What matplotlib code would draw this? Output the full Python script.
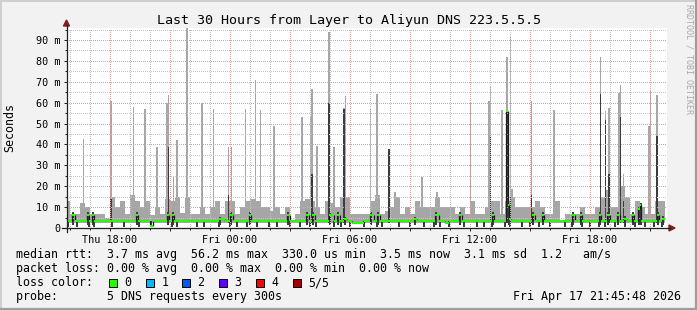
import matplotlib
matplotlib.use("Agg")
import matplotlib.pyplot as plt
import numpy as np
from matplotlib.lines import Line2D
from matplotlib.patches import Rectangle, Polygon

W, H = 697, 310

# ---- data: hours relative to Fri 00:00, values in ms ----
# light smoke top for each 15 minute slot, starting Thu 15:45
slot_start = -8.25
slot_hours = 0.25
smoke_top = [
    13, 6.5, 6.5, 12, 10, 6.5, 6.5, 6.5, 5, 15, 10, 13, 6.5, 16, 13,
    10, 13, 6, 10, 6.5, 14, 13, 15, 7, 15, 6.5, 6.5, 10, 6.5, 10,
    13, 6.5, 13, 13, 6.5, 10, 13, 14, 13, 10, 10, 8, 10, 6.5, 10,
    4, 6.5, 13, 14, 13, 10, 6.5, 13, 12, 10, 15, 15, 6.5, 6.5, 6.5,
    6.5, 13, 16, 6.5, 8, 10, 15, 6.5, 10, 6.5, 13, 10, 10, 10, 15,
    10, 10, 10, 6.5, 10, 6.5, 13, 6.5, 6.5, 10, 13, 13, 6.5, 13, 15,
    10, 10, 10, 10, 13, 10, 6.5, 6.5, 13, 4, 6.5, 6.5, 6.5, 10, 6.5,
    6.5, 10, 15, 18, 10, 10, 20, 15, 6.5, 13, 10, 6.5, 6.5, 13, 13,
]

# tall single samples (max ping) and their inner (2nd..4th ping) part
spike_hours = [-7.32, -5.94, -4.82, -4.24, -3.65, -3.15, -3.07, -2.82, -2.65, -2.15, -1.40, -0.82,
               -0.07, 0.07, 0.77, 1.27, 1.52, 2.19, 3.60, 4.05, 4.10, 4.35, 4.94, 5.19, 5.69, 5.77,
               7.02, 7.35, 7.94, 8.25, 9.60, 10.35, 12.02, 12.94, 13.02, 13.60, 13.85, 14.02,
               14.10, 15.07, 16.19, 18.52, 18.77, 18.94, 19.44, 19.52, 19.68, 20.94, 21.02, 21.35]
spike_max = [42.6, 60.8, 58, 57, 39, 60, 63.7, 24.6, 42, 96, 60, 57,
             38.6, 39, 57, 71, 56.5, 49, 53, 53.8, 66.5, 39.4, 93.7, 38.8, 57.3, 63,
             57, 64, 37.8, 17, 24.4, 17, 60, 60.8, 68, 56.5, 81.7, 92,
             18.7, 60.8, 56.5, 81.7, 56, 57.6, 64.5, 68.5, 26, 49, 66, 63.7]
spike_inner = [0, 14, 0, 0, 0, 0, 39, 0, 0, 0, 0, 0,
               16, 0, 0, 0, 0, 0, 0, 0, 26, 0, 60, 0, 57, 0,
               0, 0, 37.8, 0, 0, 0, 0, 0, 44, 0, 56.5, 15,
               0, 16, 0, 64, 51.7, 26, 0, 53, 13, 0, 0, 44]

# median rtt as steps (start hour, value)
median_hours = [-8.25, -7.90, -7.75, -7.15, -7.05, -6.90, -6.78, -4.70, -4.58, -4.00, -3.85,
                -3.15, -3.05, -2.90, -2.80, -0.55, -0.25, 0.00, 0.15, 0.95, 1.05, 2.85, 2.98,
                3.80, 3.95, 4.10, 4.25, 4.95, 5.20, 5.35, 5.50, 5.70, 5.85, 6.10, 6.70, 7.00, 7.20,
                7.35, 7.50, 9.20, 9.35, 10.25, 10.45, 10.75, 10.95, 11.45, 11.60, 13.10, 13.20,
                13.80, 13.88, 13.97, 14.05, 15.10, 15.25, 15.60, 15.70, 17.10, 17.25, 17.50, 17.60,
                18.45, 18.55, 18.85, 19.00, 19.35, 19.50, 19.70, 19.85, 20.10, 20.20, 20.40, 20.50,
                20.55, 21.35, 21.45, 21.60, 21.75]
median_ms = [3.2, 6.3, 3.2, 6.3, 3.2, 6.3, 3.2, 6.3, 3.2, 1.0, 3.2,
             6.3, 3.2, 6.3, 3.2, 4.3, 3.2, 6.3, 3.2, 6.3, 3.2, 6.3, 3.2,
             6.3, 3.2, 6.3, 3.2, 6.3, 3.2, 6.3, 3.2, 4.3, 3.2, 2.4, 3.2, 6.3, 3.2,
             6.3, 3.2, 4.3, 3.2, 6.3, 3.2, 2.4, 3.2, 6.3, 3.2, 6.3, 3.2,
             56.2, 11.0, 4.3, 3.2, 6.3, 3.2, 6.3, 3.2, 6.3, 3.2, 6.3, 3.2,
             6.3, 3.2, 6.3, 3.2, 6.3, 3.2, 4.5, 3.2, 6.3, 3.2, 9.0, 11.0,
             3.2, 6.3, 3.2, 4.5, 4.5]

# samples whose fastest pings drop down to the minimum
dip_hours = [-8.10, -7.65, -7.05, -6.80, -5.90, -5.30, -4.55, -3.95, -2.90, -2.65, -1.65, -1.30,
             -0.55, 0.00, 0.35, 0.85, 1.35, 1.95, 2.35, 3.00, 3.50, 4.00, 4.30, 5.20, 5.55, 6.00,
             6.70, 7.35, 7.60, 8.45, 9.00, 9.70, 10.20, 10.50, 10.95, 11.70, 12.35, 12.70, 13.10,
             13.75, 14.00, 14.60, 15.00, 15.45, 16.00, 16.75, 17.10, 17.60, 18.00, 18.45, 18.75,
             19.25, 19.75, 20.25, 20.75, 21.20, 21.60]
min_rtt = 0.33
smoke_floor = 2.6

tick_hours = [-6, -3, 0, 3, 6, 9, 12, 15, 18, 21]
tick_labels = ["Thu 18:00", "", "Fri 00:00", "", "Fri 06:00", "", "Fri 12:00", "", "Fri 18:00", ""]
y_ticks = [0, 10, 20, 30, 40, 50, 60, 70, 80, 90]
y_labels = ["0", "10 m", "20 m", "30 m", "40 m", "50 m", "60 m", "70 m", "80 m", "90 m"]

loss_labels = ["0", "1", "2", "3", "4", "5/5"]
loss_colors = ["#26ff00", "#00b8ff", "#0059ff", "#5e00ff", "#ff0000", "#a00000"]

# ---- colours (rrdtool / smokeping defaults) ----
BACK = "#f2f2f2"
SHADE_A = "#cfcfcf"
SHADE_B = "#9e9e9e"
GRID = "#c4c4c4"
MGRID = "#eb9898"
ARROW = "#801f1f"
SMOKE_LIGHT = "#a6a6a6"
SMOKE_DARK = "#3c3c3c"
MONO = "DejaVu Sans Mono"
sample = 1 / 12  # 5 minutes


def fx(px):
    return px / W


def fy(py):
    return 1 - py / H


fig = plt.figure(figsize=(W / 100, H / 100), dpi=100, facecolor=BACK)
ax = fig.add_axes([fx(67), fy(228), 600 / W, 200 / H])
ax.set_facecolor("white")
ax.set_xlim(-8.15, 21.85)
ax.set_ylim(0, 200 / 2.089)

# light smoke per 15-min slot
slot_x = slot_start + slot_hours * np.arange(len(smoke_top))
top = np.array(smoke_top)
ax.bar(slot_x, top - smoke_floor, bottom=smoke_floor, width=slot_hours, align="edge",
       color=SMOKE_LIGHT, linewidth=0, antialiased=False, zorder=1)

# spikes
sh = np.array(spike_hours)
smax = np.array(spike_max)
sin = np.array(spike_inner)
ax.bar(sh, smax - smoke_floor, bottom=smoke_floor, width=sample, align="center",
       color=SMOKE_LIGHT, linewidth=0, antialiased=False, zorder=1.1)
m = sin > 0
ax.bar(sh[m], sin[m] - smoke_floor, bottom=smoke_floor, width=sample, align="center",
       color=SMOKE_DARK, linewidth=0, antialiased=False, zorder=1.2)

# dips down to the minimum rtt
ax.bar(dip_hours, 3.2 - min_rtt, bottom=min_rtt, width=sample, align="center",
       color=SMOKE_DARK, linewidth=0, antialiased=False, zorder=1.2)

# dark inner smoke where the median steps up
mh = np.array(median_hours)
mv = np.array(median_ms)
for i in range(len(mh) - 1):
    if 4 < mv[i] < 20:
        ax.bar(mh[i], mv[i] + 1.2 - 1.5, bottom=1.5, width=sample, align="edge",
               color=SMOKE_DARK, linewidth=0, antialiased=False, zorder=1.3)

# median line: green level segments, dark transitions
ax.vlines(mh[1:-1], mv[:-2], mv[1:-1], color="#1a1a1a", lw=0.9, zorder=3)
ax.hlines(mv[:-1], mh[:-1], mh[1:], color=loss_colors[0], lw=1.5, zorder=3.1)

# grid: 1 px dots, 2 px gaps, drawn over the smoke like rrdtool does
ax.set_xticks(tick_hours)
ax.set_xticks(np.arange(-8, 22), minor=True)
ax.set_xticklabels(tick_labels, fontfamily=MONO, fontsize=7.3)
ax.set_yticks(y_ticks)
ax.set_yticks(np.arange(5, 96, 10), minor=True)
ax.set_yticklabels(y_labels, fontfamily=MONO, fontsize=7.3)
ax.set_axisbelow(False)
dots = (0, (1, 2))
ax.grid(which="minor", color=GRID, lw=0.72, linestyle=dots, antialiased=False, zorder=2.5)
ax.grid(which="major", color=MGRID, lw=0.72, linestyle=dots, antialiased=False, zorder=2.6)
ax.tick_params(which="both", length=2, width=0.7, color="#1f1f1f", pad=3)
ax.tick_params(which="minor", length=1.2)

for s in ["top", "right", "bottom", "left"]:
    ax.spines[s].set_visible(False)

# axes with arrows
fig.add_artist(Line2D([fx(62), fx(670)], [fy(228), fy(228)], color="#1f1f1f", lw=0.9))
fig.add_artist(Line2D([fx(66.5), fx(66.5)], [fy(232), fy(25)], color="#1f1f1f", lw=0.9))
fig.add_artist(Polygon([[fx(669), fy(225)], [fx(669), fy(231)], [fx(675), fy(228)]],
                       closed=True, color=ARROW, transform=fig.transFigure))
fig.add_artist(Polygon([[fx(63.5), fy(26)], [fx(69.5), fy(26)], [fx(66.5), fy(20)]],
                       closed=True, color=ARROW, transform=fig.transFigure))

# frame shading
fig.add_artist(Line2D([0, 1], [fy(0.5), fy(0.5)], color=SHADE_A, lw=1.4))
fig.add_artist(Line2D([fx(0.5), fx(0.5)], [0, 1], color=SHADE_A, lw=1.4))
fig.add_artist(Line2D([0, 1], [fy(309), fy(309)], color=SHADE_B, lw=1.6))
fig.add_artist(Line2D([fx(696), fx(696)], [0, 1], color=SHADE_B, lw=1.6))

# texts
fig.text(fx(349), fy(24), "Last 30 Hours from Layer to Aliyun DNS 223.5.5.5",
         ha="center", va="baseline", fontfamily=MONO, fontsize=9.6)
fig.text(fx(10), fy(128), "Seconds", rotation=90, ha="center", va="center",
         fontfamily=MONO, fontsize=8.4)
fig.text(fx(689), fy(4), "RRDTOOL / TOBI OETIKER", rotation=270, ha="center", va="top",
         fontfamily=MONO, fontsize=6, color="#a8a8a8")

leg = dict(fontfamily=MONO, fontsize=8.4, va="baseline", ha="left")
fig.text(fx(16), fy(258), "median rtt:  3.7 ms avg  56.2 ms max  330.0 us min  3.5 ms now  3.1 ms sd  1.2   am/s", **leg)
fig.text(fx(16), fy(272), "packet loss: 0.00 % avg  0.00 % max  0.00 % min  0.00 % now", **leg)
fig.text(fx(16), fy(286), "loss color:", **leg)
fig.text(fx(16), fy(300), "probe:       5 DNS requests every 300s", **leg)
fig.text(fx(681), fy(300), "Fri Apr 17 21:45:48 2026", fontfamily=MONO, fontsize=8.4,
         va="baseline", ha="right")

box_x = [109, 146, 182, 219, 256, 293]
for bx, lab, col in zip(box_x, loss_labels, loss_colors):
    fig.add_artist(Rectangle((fx(bx), fy(286.5)), 8 / W, 8 / H, facecolor=col,
                             edgecolor="black", lw=0.7, transform=fig.transFigure))
    fig.text(fx(bx + 15.5), fy(286), lab, **leg)

fig.savefig("out.png", dpi=100, facecolor=BACK)
